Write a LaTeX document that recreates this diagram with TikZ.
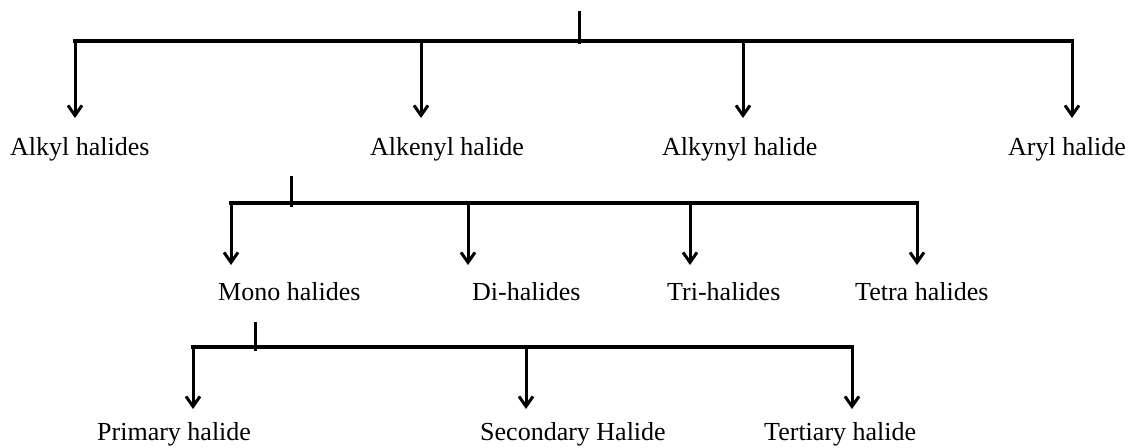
\documentclass[tikz,border=0pt]{standalone}
\usepackage{fontspec}
\setmainfont{Liberation Serif}
\usetikzlibrary{arrows.meta}
\begin{document}
\begin{tikzpicture}[x=1pt,y=-1pt,
  bar/.style={line width=3.4pt,line cap=rect},
  stub/.style={line width=3pt},
  down/.style={line width=3pt,-{Straight Barb[length=10pt,width=14pt,line width=3pt]}},
  lbl/.style={anchor=base west,inner sep=0pt,font=\fontsize{26}{30}\selectfont}]
\useasboundingbox (0,0) rectangle (1129,447);
% level 1
\coordinate (r1a) at (579,11);
\coordinate (r1b) at (579,44);
\coordinate (h1l) at (75,41);
\coordinate (h1b) at (421,41);
\coordinate (h1c) at (743,41);
\coordinate (h1r) at (1072,41);
\coordinate (p1a) at (75,118);
\coordinate (p1b) at (421,118);
\coordinate (p1c) at (743,118);
\coordinate (p1d) at (1072,118);
\node[lbl] (alkyl) at (10,155) {Alkyl halides};
\node[lbl] (alkenyl) at (370,155) {Alkenyl halide};
\node[lbl] (alkynyl) at (662,155) {Alkynyl halide};
\node[lbl] (aryl) at (1008,155) {Aryl halide};
\draw[stub] (r1a) -- (r1b);
\draw[bar] (h1l) -- (h1r);
\draw[down] (h1l) -- (p1a);
\draw[down] (h1b) -- (p1b);
\draw[down] (h1c) -- (p1c);
\draw[down] (h1r) -- (p1d);
% level 2
\coordinate (r2a) at (291,176);
\coordinate (r2b) at (291,207);
\coordinate (h2l) at (231,203);
\coordinate (h2b) at (468,203);
\coordinate (h2c) at (690,203);
\coordinate (h2r) at (917,203);
\coordinate (p2a) at (231,265);
\coordinate (p2b) at (468,265);
\coordinate (p2c) at (690,265);
\coordinate (p2d) at (917,265);
\node[lbl] (mono) at (218,300) {Mono halides};
\node[lbl] (di) at (472,300) {Di-halides};
\node[lbl] (tri) at (667,300) {Tri-halides};
\node[lbl] (tetra) at (855,300) {Tetra halides};
\draw[stub] (r2a) -- (r2b);
\draw[bar] (h2l) -- (h2r);
\draw[down] (h2l) -- (p2a);
\draw[down] (h2b) -- (p2b);
\draw[down] (h2c) -- (p2c);
\draw[down] (h2r) -- (p2d);
% level 3
\coordinate (r3a) at (255,322);
\coordinate (r3b) at (255,351);
\coordinate (h3l) at (193,347);
\coordinate (h3b) at (526,347);
\coordinate (h3r) at (852,347);
\coordinate (p3a) at (193,409);
\coordinate (p3b) at (526,409);
\coordinate (p3c) at (852,409);
\node[lbl] (primary) at (97,440) {Primary halide};
\node[lbl] (secondary) at (480,440) {Secondary Halide};
\node[lbl] (tertiary) at (764,440) {Tertiary halide};
\draw[stub] (r3a) -- (r3b);
\draw[bar] (h3l) -- (h3r);
\draw[down] (h3l) -- (p3a);
\draw[down] (h3b) -- (p3b);
\draw[down] (h3r) -- (p3c);
\end{tikzpicture}
\end{document}
